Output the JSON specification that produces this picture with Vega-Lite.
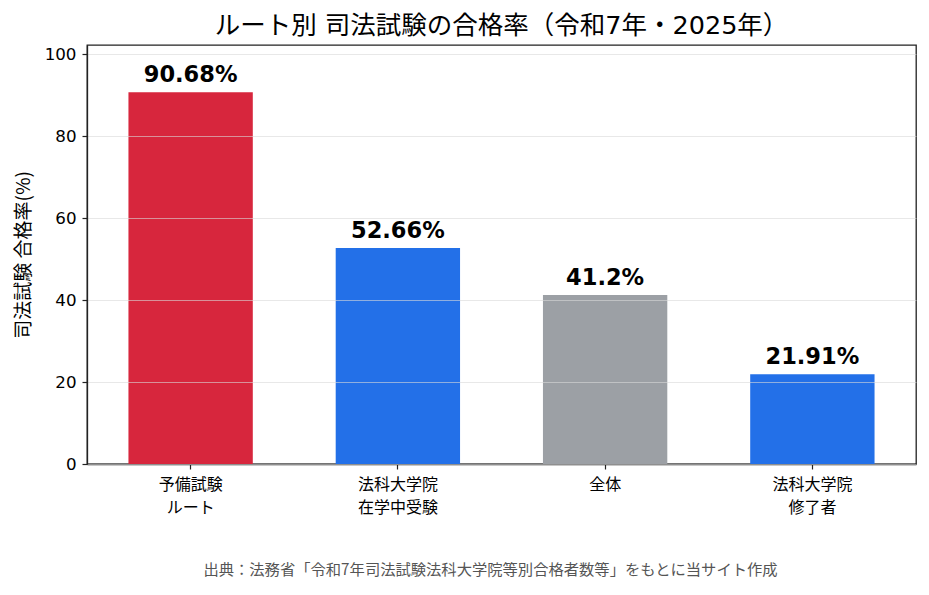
{
  "$schema": "https://vega.github.io/schema/vega-lite/v6.json",
  "width": 829,
  "height": 419,
  "autosize": "none",
  "padding": {"left": 87, "top": 45, "right": 13, "bottom": 131},
  "background": "white",
  "title": {
    "text": "ルート別 司法試験の合格率（令和7年・2025年）",
    "font": "DejaVu Sans, Noto Sans CJK JP",
    "fontSize": 25.5,
    "fontWeight": "normal",
    "color": "#000000",
    "anchor": "middle",
    "offset": 6
  },
  "config": {
    "view": {"stroke": "#222222", "strokeWidth": 1.3},
    "axis": {
      "domainColor": "#222222",
      "domainWidth": 1.3,
      "tickColor": "#222222",
      "tickSize": 5,
      "tickWidth": 1.2,
      "labelColor": "#000000",
      "titleColor": "#000000"
    }
  },
  "data": {
    "values": [
      {"route": "予備試験\nルート", "rate": 90.68, "kind": "yobi"},
      {"route": "法科大学院\n在学中受験", "rate": 52.66, "kind": "lawschool"},
      {"route": "全体", "rate": 41.2, "kind": "total"},
      {"route": "法科大学院\n修了者", "rate": 21.91, "kind": "lawschool"}
    ]
  },
  "transform": [
    {"calculate": "format(datum.rate, '.2~f') + '%'", "as": "label"}
  ],
  "encoding": {
    "x": {
      "field": "route",
      "type": "nominal",
      "sort": null,
      "scale": {"paddingInner": 0.4, "paddingOuter": 0.2},
      "axis": {
        "labelAngle": 0,
        "labelExpr": "split(datum.label, '\\n')",
        "labelFont": "Noto Sans CJK JP",
        "labelFontSize": 16,
        "labelLineHeight": 23.5,
        "labelPadding": 7,
        "title": "出典：法務省「令和7年司法試験法科大学院等別合格者数等」をもとに当サイト作成",
        "titleFont": "Noto Sans CJK JP",
        "titleFontSize": 15.3,
        "titleFontWeight": "normal",
        "titleColor": "#555555",
        "titlePadding": 47,
        "titleX": 403
      }
    },
    "y": {
      "field": "rate",
      "type": "quantitative",
      "scale": {"domain": [0, 102.2], "nice": false},
      "axis": {
        "values": [0, 20, 40, 60, 80, 100],
        "labelFont": "DejaVu Sans",
        "labelFontSize": 16.7,
        "labelPadding": 6,
        "grid": true,
        "gridColor": "#d9d9d9",
        "gridOpacity": 0.6,
        "gridWidth": 1.2,
        "zindex": 1,
        "title": "司法試験 合格率(%)",
        "titleFont": "Noto Sans CJK JP",
        "titleFontSize": 19,
        "titleFontWeight": "normal",
        "titlePadding": 11
      }
    }
  },
  "layer": [
    {
      "mark": {"type": "bar"},
      "encoding": {
        "color": {
          "field": "kind",
          "type": "nominal",
          "scale": {
            "domain": ["yobi", "lawschool", "total"],
            "range": ["#d7263d", "#2370e8", "#9ca0a5"]
          },
          "legend": null
        }
      }
    },
    {
      "mark": {
        "type": "text",
        "baseline": "bottom",
        "dy": -5,
        "font": "DejaVu Sans",
        "fontSize": 22.5,
        "fontWeight": "bold",
        "color": "#000000"
      },
      "encoding": {
        "text": {"field": "label", "type": "nominal"}
      }
    }
  ]
}
